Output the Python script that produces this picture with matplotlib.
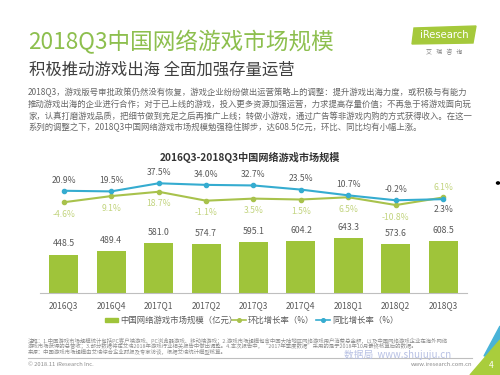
import matplotlib
matplotlib.use("Agg")
import matplotlib.pyplot as plt
from matplotlib.patches import Polygon, Rectangle, Circle
from matplotlib.lines import Line2D
import numpy as np

plt.rcParams['font.family'] = ['Noto Sans CJK SC', 'DejaVu Sans']

quarters = ['2016Q3', '2016Q4', '2017Q1', '2017Q2', '2017Q3',
            '2017Q4', '2018Q1', '2018Q2', '2018Q3']
market_size = [448.5, 489.4, 581.0, 574.7, 595.1, 604.2, 643.3, 573.6, 608.5]
qoq_growth = [-4.6, 9.1, 18.7, -1.1, 3.5, 1.5, 6.5, -10.8, 6.1]
yoy_growth = [20.9, 19.5, 37.5, 34.0, 32.7, 23.5, 10.7, -0.2, 2.3]

BAR_C = '#9fc43a'
QOQ_C = '#a8c24c'
QOQ_TXT = '#c2d47e'
YOY_C = '#35acd0'
TXT = '#595959'

W, H = 500, 375


def fx(x):
    return x / W


def fy(y):
    return 1 - y / H


fig = plt.figure(figsize=(5, 3.75), dpi=100)
fig.patch.set_facecolor('white')

# header
fig.text(fx(28), fy(42), '2018Q3中国网络游戏市场规模', fontsize=16.3,
         color='#8dbf4e', va='center', ha='left', fontweight='light')
fig.text(fx(29), fy(70), '积极推动游戏出海 全面加强存量运营', fontsize=11.8,
         color='#404040', va='center', ha='left')

# logo
fig.patches.append(Polygon([(fx(414), fy(28)), (fx(476), fy(26)), (fx(473), fy(43)), (fx(412), fy(44))],
                           closed=True, color='#a5c93b', transform=fig.transFigure))
fig.text(fx(444), fy(35.5), 'iResearch', fontsize=7.2, color='white', ha='center', va='center',
         family=['DejaVu Sans'])
fig.text(fx(444), fy(52), '艾   瑞   咨   询', fontsize=4.3, color='#808080', ha='center', va='center')

body = [
    '2018Q3，游戏版号审批政策仍然没有恢复，游戏企业纷纷做出运营策略上的调整：提升游戏出海力度，或积极与有能力',
    '推动游戏出海的企业进行合作；对于已上线的游戏，投入更多资源加强运营，力求提高存量价值；不再急于将游戏面向玩',
    '家，认真打磨游戏品质，把细节做到充足之后再推广上线；转做小游戏，通过广告等非游戏内购的方式获得收入。在这一',
    '系列的调整之下，2018Q3中国网络游戏市场规模勉强稳住脚步，达608.5亿元，环比、同比均有小幅上涨。',
]
for i, line in enumerate(body):
    fig.text(fx(28), fy(92.5 + i * 11.7), line, fontsize=6.0, color='#666666', va='center', ha='left')

fig.text(fx(250), fy(157.5), '2016Q3-2018Q3中国网络游戏市场规模', fontsize=7.3,
         fontweight='bold', color='#333333', ha='center', va='center')

# chart
ax = fig.add_axes([fx(40), fy(293), fx(467) - fx(40), fy(170) - fy(293)])
x = np.arange(len(quarters))
ax.bar(x, market_size, width=0.61, color=BAR_C, zorder=2)
ax.set_xlim(-0.5, len(quarters) - 0.5)
ax.set_ylim(0, 1440)
for s in ['top', 'left', 'right']:
    ax.spines[s].set_visible(False)
ax.spines['bottom'].set_color('#bfbfbf')
ax.spines['bottom'].set_linewidth(0.8)
ax.set_yticks([])
ax.set_xticks(x)
ax.set_xticklabels(quarters, fontsize=6, color=TXT)
ax.tick_params(axis='x', length=0, pad=6)
for xi, v in zip(x, market_size):
    ax.annotate(f'{v:.1f}', (xi, v), xytext=(0, 4.5), textcoords='offset points',
                ha='center', va='bottom', fontsize=6.3, color=TXT)

ax2 = ax.twinx()
ax2.set_ylim(-206, 67)
ax2.axis('off')
ax2.plot(x, qoq_growth, color=QOQ_C, lw=1.5, marker='o', ms=3, zorder=3)
ax2.plot(x, yoy_growth, color=YOY_C, lw=1.5, marker='o', ms=3, zorder=4)
last = len(quarters) - 1
for xi, q, yv in zip(x, qoq_growth, yoy_growth):
    if xi == last:
        ax2.annotate(f'{q:.1f}%', (xi, q), xytext=(0, 4), textcoords='offset points',
                     ha='center', va='bottom', fontsize=6.2, color=QOQ_TXT)
        ax2.annotate(f'{yv:.1f}%', (xi, yv), xytext=(0, -4.5), textcoords='offset points',
                     ha='center', va='top', fontsize=6.2, color=TXT)
    else:
        ax2.annotate(f'{yv:.1f}%', (xi, yv), xytext=(0, 4.5), textcoords='offset points',
                     ha='center', va='bottom', fontsize=6.2, color=TXT)
        ax2.annotate(f'{q:.1f}%', (xi, q), xytext=(0, -5.5), textcoords='offset points',
                     ha='center', va='top', fontsize=6.2, color=QOQ_TXT)

# legend
ly = fy(320)
fig.patches.append(Rectangle((fx(105), ly - 0.006), fx(13), 0.012, color=BAR_C,
                             transform=fig.transFigure))
fig.text(fx(120), ly, '中国网络游戏市场规模（亿元）', fontsize=6, color=TXT, va='center')
fig.lines.append(Line2D([fx(232), fx(246)], [ly, ly], color=QOQ_C, lw=1.2, transform=fig.transFigure))
fig.lines.append(Line2D([fx(239)], [ly], color=QOQ_C, marker='o', ms=2.6, transform=fig.transFigure))
fig.text(fx(248), ly, '环比增长率（%）', fontsize=6, color=TXT, va='center')
fig.lines.append(Line2D([fx(316), fx(330)], [ly, ly], color=YOY_C, lw=1.2, transform=fig.transFigure))
fig.lines.append(Line2D([fx(323)], [ly], color=YOY_C, marker='o', ms=2.6, transform=fig.transFigure))
fig.text(fx(332), ly, '同比增长率（%）', fontsize=6, color=TXT, va='center')

# footnotes
notes = [
    '注释：1.中国游戏市场规模统计包括PC客户端游戏、PC浏览器游戏、移动端游戏；2.游戏市场规模包含中国大陆地区网络游戏用户消费总金额，以及中国网络游戏企业在海外网络',
    '游戏市场获得的总营收；3.部分数据将在艾瑞2018年游戏行业相关报告中做出调整。4.本次报告中，“2017年季度数据”采用的是于2018年10月最终核算后的数据。',
    '来源：中国游戏市场规模由艾瑞综合企业财报及专家访谈，根据艾瑞统计模型核算。',
]
for i, line in enumerate(notes):
    fig.text(fx(28), fy(341 + i * 5.3), line, fontsize=3.9, color='#8c8c8c', va='center')
fig.text(fx(398), fy(355), '数据局  www.shujuju.cn', fontsize=7, color='#b8c1e4',
         ha='center', va='center')
fig.lines.append(Line2D([fx(28), fx(472)], [fy(357.5), fy(357.5)], color='#bfbfbf', lw=0.8,
                        transform=fig.transFigure))
fig.text(fx(28), fy(364), '© 2018.11 iResearch Inc.', fontsize=4.2, color='#8c8c8c', va='center')
fig.text(fx(472), fy(364), 'www.iresearch.com.cn', fontsize=4.2, color='#8c8c8c', va='center', ha='right')

# corner decoration
fig.patches.append(Polygon([(fx(500), fy(326)), (fx(484), fy(356)), (fx(500), fy(356))],
                           closed=True, color='#49b3d8', transform=fig.transFigure))
fig.patches.append(Polygon([(fx(500), fy(340)), (fx(470), fy(375)), (fx(500), fy(375))],
                           closed=True, color='#a9cd3c', transform=fig.transFigure))
fig.text(fx(491), fy(366), '4', fontsize=6, color='white', ha='center', va='center')
fig.patches.append(Circle((fx(498), fy(183)), 0.003, color='black', transform=fig.transFigure))

fig.savefig('out.png', dpi=100)
